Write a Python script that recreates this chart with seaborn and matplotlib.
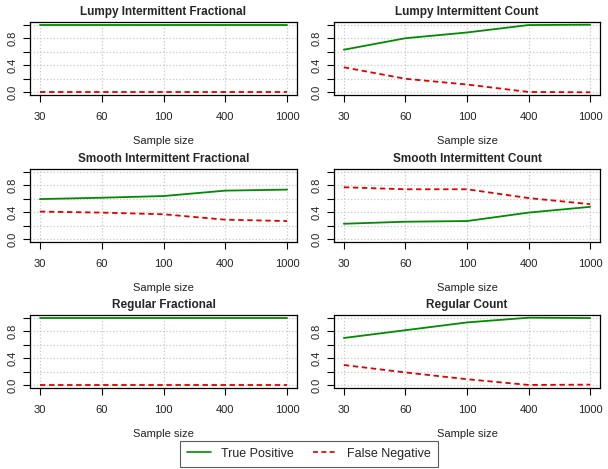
import numpy as np
import pandas as pd
import matplotlib
matplotlib.use("Agg")
import matplotlib.pyplot as plt
import seaborn as sns
from matplotlib.lines import Line2D

sample_sizes = ["30", "60", "100", "400", "1000"]

titles = [
    "Lumpy Intermittent Fractional", "Lumpy Intermittent Count",
    "Smooth Intermittent Fractional", "Smooth Intermittent Count",
    "Regular Fractional", "Regular Count",
]

tp_lumpy_frac = [1.0, 1.0, 1.0, 1.0, 1.0]
fn_lumpy_frac = [0.0, 0.0, 0.0, 0.0, 0.0]
tp_lumpy_count = [0.63, 0.80, 0.885, 0.995, 1.0]
fn_lumpy_count = [0.37, 0.20, 0.115, 0.005, 0.0]
tp_smooth_frac = [0.595, 0.615, 0.64, 0.72, 0.735]
fn_smooth_frac = [0.41, 0.395, 0.37, 0.29, 0.27]
tp_smooth_count = [0.23, 0.26, 0.27, 0.395, 0.48]
fn_smooth_count = [0.77, 0.74, 0.74, 0.61, 0.52]
tp_regular_frac = [1.0, 1.0, 1.0, 1.0, 1.0]
fn_regular_frac = [0.0, 0.0, 0.0, 0.0, 0.0]
tp_regular_count = [0.70, 0.815, 0.93, 1.0, 0.995]
fn_regular_count = [0.30, 0.19, 0.09, 0.005, 0.01]

panels = [
    (tp_lumpy_frac, fn_lumpy_frac), (tp_lumpy_count, fn_lumpy_count),
    (tp_smooth_frac, fn_smooth_frac), (tp_smooth_count, fn_smooth_count),
    (tp_regular_frac, fn_regular_frac), (tp_regular_count, fn_regular_count),
]

green = "#008B00"
red = "#E00000"

sns.set_theme(style="white")
plt.rcParams["font.family"] = ["Liberation Sans", "DejaVu Sans"]

W, H = 608, 469
fig = plt.figure(figsize=(W / 100, H / 100), dpi=100)

cols_px = [(30, 297), (334, 600)]
rows_px = [(22, 95), (169, 242), (315, 388)]

for i, (title, (tp, fn)) in enumerate(zip(titles, panels)):
    r, c = divmod(i, 2)
    x0, x1 = cols_px[c]
    y0, y1 = rows_px[r]
    ax = fig.add_axes([x0 / W, 1 - y1 / H, (x1 - x0) / W, (y1 - y0) / H])

    df = pd.DataFrame({
        "pos": list(range(5)) * 2,
        "value": tp + fn,
        "type": ["True Positive"] * 5 + ["False Negative"] * 5,
    })
    sns.lineplot(data=df, x="pos", y="value", hue="type", style="type",
                 palette={"True Positive": green, "False Negative": red},
                 dashes={"True Positive": "", "False Negative": (3, 2)},
                 linewidth=1.3, legend=False, ax=ax)

    ax.set_xlim(-0.16, 4.16)
    ax.set_ylim(-0.04, 1.04)
    ax.set_xticks(range(5))
    ax.set_xticklabels(sample_sizes)
    ax.set_yticks(np.arange(0, 1.01, 0.2))
    ax.set_yticklabels(["0.0", "", "0.4", "", "0.8", ""])
    for lab in ax.get_yticklabels():
        lab.set_rotation(90)
        lab.set_va("center")
    ax.grid(True, color="#C8C8C8", linestyle=":", linewidth=0.9)
    for s in ax.spines.values():
        s.set_visible(True)
        s.set_color("black")
        s.set_linewidth(0.9)
    ax.tick_params(axis="both", direction="out", length=5, width=0.8,
                   bottom=True, left=True, color="black", labelsize=8,
                   labelcolor="#222222")
    ax.tick_params(axis="x", pad=7)
    ax.tick_params(axis="y", pad=4)
    ax.set_xlabel("Sample size", fontsize=8, labelpad=10, color="#222222")
    ax.set_ylabel("")
    ax.set_title(title, fontsize=8.5, fontweight="bold", pad=5)

handles = [
    Line2D([], [], color=green, lw=1.2, linestyle="-"),
    Line2D([], [], color=red, lw=1.2, linestyle=(0, (3, 2))),
]
leg = fig.legend(handles, ["True Positive", "False Negative"], ncol=2,
                 loc="lower center", bbox_to_anchor=(0.508, -0.008), frameon=True,
                 fancybox=False, edgecolor="#333333", fontsize=9,
                 handlelength=1.9, handletextpad=0.8, columnspacing=1.6,
                 borderpad=0.55)
leg.get_frame().set_linewidth(0.8)

fig.savefig("out.png", dpi=100)
